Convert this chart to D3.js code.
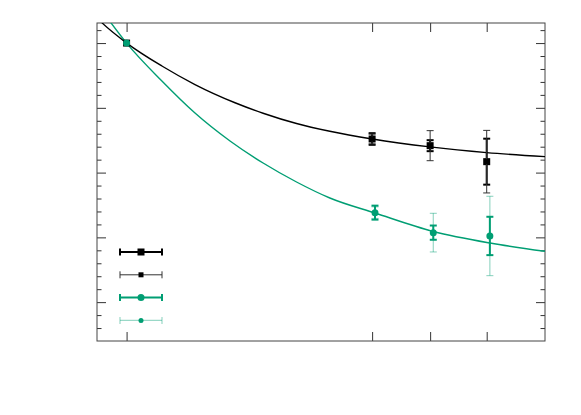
<!DOCTYPE html>
<html>
<head>
<meta charset="utf-8">
<script src="https://cdn.jsdelivr.net/npm/d3@7"></script>
<style>
  body { margin: 0; background: #fff; }
</style>
</head>
<body>
<svg id="chart"></svg>
<script>
// values (no labels on this plot)
var xTicks = [0.515, 4.79, 5.80, 6.785];
var yMajorTicks = [0, 1, 2, 3, 4];

var blackX = [0.515, 4.79, 5.80, 6.785];
var blackY = [4.0, 2.519, 2.416, 2.169];
var blackErrThick = [0, 0.090, 0.085, 0.355];
var blackErrThin = [0, 0.075, 0.232, 0.483];

var greenX = [0.515, 4.84, 5.855, 6.84];
var greenY = [4.0, 1.382, 1.073, 1.022];
var greenErrThick = [0, 0.108, 0.110, 0.296];
var greenErrThin = [0, 0.09, 0.298, 0.612];

// fit curves, sampled along the drawn lines
var blackFitX = [0, 0.082, 0.517, 1.130, 1.706, 2.403, 2.892, 3.474, 4.054, 4.793, 5.798, 6.785, 7.8];
var blackFitY = [4.387, 4.316, 4.0, 3.646, 3.360, 3.079, 2.917, 2.758, 2.638, 2.519, 2.397, 2.309, 2.247];
var greenFitX = [0.174, 0.515, 1.130, 1.706, 2.316, 2.892, 3.474, 4.054, 4.840, 5.855, 6.843, 7.8];
var greenFitY = [4.395, 4.0, 3.415, 2.920, 2.488, 2.148, 1.855, 1.608, 1.376, 1.091, 0.913, 0.785];

var green = "#009e73";

// set the dimensions and margins of the graph
var margin = {top: 23, right: 36, bottom: 74, left: 97},
    width = 581 - margin.left - margin.right,
    height = 415 - margin.top - margin.bottom;

// set the ranges
var x = d3.scaleLinear().domain([0, 7.8]).range([0, width]);
var y = d3.scaleLinear().domain([-0.6, 4.31]).range([height, 0]);

var svg = d3.select("#chart")
    .attr("width", width + margin.left + margin.right)
    .attr("height", height + margin.top + margin.bottom)
    .style("background", "#fff");

var g = svg.append("g")
    .attr("transform", "translate(" + margin.left + "," + margin.top + ")");

g.append("clipPath").attr("id", "clip")
  .append("rect").attr("width", width).attr("height", height);

// minor ticks every 0.2, majors every 1
var yMinorTicks = d3.range(-4, 43, 2).map(function(d) { return d / 10; })
    .filter(function(d) { return yMajorTicks.indexOf(d) < 0; });

function tickAxis(axis, ticks, size) {
  return axis.tickValues(ticks).tickSize(size).tickFormat("");
}

function drawAxis(axis, tx, ty) {
  var a = g.append("g").attr("transform", "translate(" + tx + "," + ty + ")").call(axis);
  a.select(".domain").remove();
  a.selectAll("line").attr("stroke", "#333");
}

drawAxis(tickAxis(d3.axisLeft(y), yMajorTicks, -9), 0, 0);
drawAxis(tickAxis(d3.axisLeft(y), yMinorTicks, -4.5), 0, 0);
drawAxis(tickAxis(d3.axisRight(y), yMajorTicks, -9), width, 0);
drawAxis(tickAxis(d3.axisRight(y), yMinorTicks, -4.5), width, 0);
drawAxis(tickAxis(d3.axisBottom(x), xTicks, -9), 0, height);
drawAxis(tickAxis(d3.axisTop(x), xTicks, -9), 0, 0);

// border
g.append("rect")
  .attr("width", width).attr("height", height)
  .attr("fill", "none").attr("stroke", "#444").attr("stroke-width", 1);

// fit lines
var line = d3.line()
  .x(function(d) { return x(d[0]); })
  .y(function(d) { return y(d[1]); })
  .curve(d3.curveMonotoneX);

var curves = [
  {xs: blackFitX, ys: blackFitY, color: "#000"},
  {xs: greenFitX, ys: greenFitY, color: green}
];

curves.forEach(function(c) {
  g.append("path")
    .datum(d3.zip(c.xs, c.ys))
    .attr("clip-path", "url(#clip)")
    .attr("fill", "none")
    .attr("stroke", c.color)
    .attr("stroke-width", 1.4)
    .attr("d", line);
});

// series, in the order they are drawn
var series = [
  {xs: blackX, ys: blackY, err: blackErrThick, color: "#000", lw: 2, opacity: 1, marker: "square", size: 7},
  {xs: blackX, ys: blackY, err: blackErrThin, color: "#333", lw: 1, opacity: 1, marker: "square", size: 5},
  {xs: greenX, ys: greenY, err: greenErrThin, color: green, lw: 1.2, opacity: 0.4, marker: "circle", size: 5},
  {xs: greenX, ys: greenY, err: greenErrThick, color: green, lw: 2, opacity: 1, marker: "circle", size: 7}
];

function drawMarker(sel, s, cx, cy) {
  if (s.marker === "square") {
    sel.append("rect")
      .attr("x", cx - s.size / 2).attr("y", cy - s.size / 2)
      .attr("width", s.size).attr("height", s.size)
      .attr("fill", "#000");
  } else {
    sel.append("circle")
      .attr("cx", cx).attr("cy", cy).attr("r", s.size / 2)
      .attr("fill", s.color);
  }
}

var cap = 3.5;

series.forEach(function(s) {
  var sg = g.append("g");
  s.xs.forEach(function(xv, i) {
    var cx = x(xv), e = s.err[i];
    if (e > 0) {
      var y0 = y(s.ys[i] - e), y1 = y(s.ys[i] + e);
      var eb = sg.append("g")
        .attr("stroke", s.color)
        .attr("stroke-opacity", s.opacity)
        .attr("stroke-width", s.lw);
      eb.append("line").attr("x1", cx).attr("x2", cx).attr("y1", y0).attr("y2", y1);
      eb.append("line").attr("x1", cx - cap).attr("x2", cx + cap).attr("y1", y0).attr("y2", y0);
      eb.append("line").attr("x1", cx - cap).attr("x2", cx + cap).attr("y1", y1).attr("y2", y1);
    }
  });
  s.xs.forEach(function(xv, i) {
    drawMarker(sg, s, x(xv), y(s.ys[i]));
  });
});

// key (entries have no titles)
var legendRows = [series[0], series[1], series[3], series[2]];
var key = g.append("g").attr("transform", "translate(23,229)");

legendRows.forEach(function(s, i) {
  var ky = i * 22.8, x0 = 0, x1 = 42;
  var kg = key.append("g");
  var lg = kg.append("g")
    .attr("stroke", s.color)
    .attr("stroke-opacity", s.opacity)
    .attr("stroke-width", s.lw);
  lg.append("line").attr("x1", x0).attr("x2", x1).attr("y1", ky).attr("y2", ky);
  lg.append("line").attr("x1", x0).attr("x2", x0).attr("y1", ky - cap).attr("y2", ky + cap);
  lg.append("line").attr("x1", x1).attr("x2", x1).attr("y1", ky - cap).attr("y2", ky + cap);
  drawMarker(kg, s, (x0 + x1) / 2, ky);
});
</script>
</body>
</html>
